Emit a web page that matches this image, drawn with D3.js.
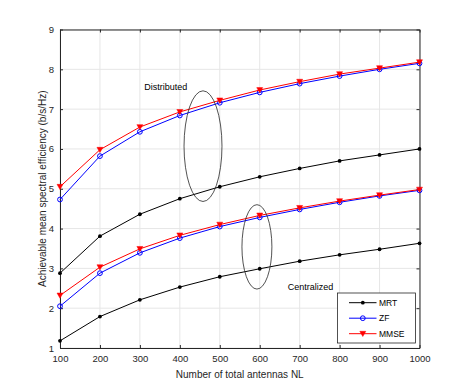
<!DOCTYPE html>
<html>
<head>
<meta charset="utf-8">
<script src="https://cdn.jsdelivr.net/npm/d3@7"></script>
<style>
  body { margin: 0; background: #fff; }
  text { font-family: "Liberation Sans", Arial, sans-serif; }
</style>
</head>
<body>
<svg id="chart"></svg>
<script>
const width = 463;
const height = 392;

// number of total antennas
const antennas = [100, 200, 300, 400, 500, 600, 700, 800, 900, 1000];
const xTicks = antennas;
const yTicks = [1, 2, 3, 4, 5, 6, 7, 8, 9];

// distributed
const distMRT  = [2.88, 3.81, 4.36, 4.75, 5.05, 5.30, 5.51, 5.70, 5.85, 6.00];
const distZF   = [4.73, 5.82, 6.43, 6.84, 7.16, 7.42, 7.64, 7.83, 8.00, 8.15];
const distMMSE = [5.05, 5.98, 6.55, 6.93, 7.22, 7.48, 7.69, 7.88, 8.03, 8.18];
// centralized
const centMRT  = [1.18, 1.79, 2.21, 2.53, 2.79, 2.99, 3.18, 3.34, 3.48, 3.63];
const centZF   = [2.05, 2.88, 3.39, 3.76, 4.05, 4.28, 4.48, 4.66, 4.82, 4.96];
const centMMSE = [2.32, 3.03, 3.49, 3.83, 4.10, 4.33, 4.52, 4.69, 4.84, 4.98];

const legendNames = ['MRT', 'ZF', 'MMSE'];

const margin = { top: 29.5, right: 43.5, bottom: 44, left: 60 };

const svg = d3.select('#chart')
    .attr('width', width)
    .attr('height', height);

const x = d3.scaleLinear()
    .domain([100, 1000])
    .range([margin.left, width - margin.right]);

const y = d3.scaleLinear()
    .domain([1, 9])
    .range([height - margin.bottom, margin.top]);

const axisColor = '#262626';
const gridColor = '#e6e6e6';

// grid
svg.append('g')
    .selectAll('line')
    .data(xTicks)
    .join('line')
    .attr('x1', d => x(d)).attr('x2', d => x(d))
    .attr('y1', y(1)).attr('y2', y(9))
    .attr('stroke', gridColor)
    .attr('stroke-width', 1);

svg.append('g')
    .selectAll('line')
    .data(yTicks)
    .join('line')
    .attr('x1', x(100)).attr('x2', x(1000))
    .attr('y1', d => y(d)).attr('y2', d => y(d))
    .attr('stroke', gridColor)
    .attr('stroke-width', 1);

// axes (ticks inward, box on)
const fontSize = '9.5px';
const styleAxis = g => {
    g.select('.domain').attr('stroke', axisColor);
    g.selectAll('.tick line').attr('stroke', axisColor);
    g.selectAll('.tick text').attr('fill', axisColor).style('font-size', fontSize)
        .style('font-family', '"Liberation Sans", Arial, sans-serif');
};

svg.append('g')
    .attr('transform', `translate(0,${y(1)})`)
    .call(d3.axisBottom(x).tickValues(xTicks).tickFormat(d3.format('d'))
        .tickSizeInner(-3).tickSizeOuter(0).tickPadding(7))
    .call(styleAxis);

svg.append('g')
    .attr('transform', `translate(0,${y(9)})`)
    .call(d3.axisTop(x).tickValues(xTicks).tickSizeInner(-3).tickSizeOuter(0).tickFormat(''))
    .call(styleAxis);

svg.append('g')
    .attr('transform', `translate(${x(100)},0)`)
    .call(d3.axisLeft(y).tickValues(yTicks).tickSizeInner(-3).tickSizeOuter(0).tickPadding(6))
    .call(styleAxis);

svg.append('g')
    .attr('transform', `translate(${x(1000)},0)`)
    .call(d3.axisRight(y).tickValues(yTicks).tickSizeInner(-3).tickSizeOuter(0).tickFormat(''))
    .call(styleAxis);

// axis labels
svg.append('text')
    .attr('x', x(550))
    .attr('y', height - 14)
    .attr('text-anchor', 'middle')
    .attr('fill', axisColor)
    .style('font-size', '10px')
    .text('Number of total antennas NL');

svg.append('text')
    .attr('transform', `translate(45.5,${y(5)}) rotate(-90)`)
    .attr('text-anchor', 'middle')
    .attr('fill', axisColor)
    .style('font-size', '10px')
    .text('Achievable mean spectral efficiency (b/s/Hz)');

// series
const series = [
    { name: 'MRT', values: distMRT, color: '#000000', marker: 'dot' },
    { name: 'ZF', values: distZF, color: '#0000ff', marker: 'circle' },
    { name: 'MMSE', values: distMMSE, color: '#ff0000', marker: 'tri' },
    { name: 'MRT', values: centMRT, color: '#000000', marker: 'dot' },
    { name: 'ZF', values: centZF, color: '#0000ff', marker: 'circle' },
    { name: 'MMSE', values: centMMSE, color: '#ff0000', marker: 'tri' }
];

const line = d3.line()
    .x((d, i) => x(antennas[i]))
    .y(d => y(d));

function drawMarker(g, type, color, cx, cy) {
    if (type === 'dot') {
        g.append('circle').attr('cx', cx).attr('cy', cy).attr('r', 1.9)
            .attr('fill', color);
    } else if (type === 'circle') {
        g.append('circle').attr('cx', cx).attr('cy', cy).attr('r', 2.4)
            .attr('fill', 'none').attr('stroke', color).attr('stroke-width', 1);
    } else {
        g.append('path')
            .attr('d', `M${cx - 3},${cy - 2.4}L${cx + 3},${cy - 2.4}L${cx},${cy + 2.8}Z`)
            .attr('fill', color).attr('stroke', color).attr('stroke-width', 0.5);
    }
}

series.forEach(s => {
    const g = svg.append('g');
    g.append('path')
        .datum(s.values)
        .attr('d', line)
        .attr('fill', 'none')
        .attr('stroke', s.color)
        .attr('stroke-width', 1);
    s.values.forEach((v, i) => drawMarker(g, s.marker, s.color, x(antennas[i]), y(v)));
});

// annotation ellipses
const ellipses = [
    { cx: 458, cy: 6.07, rx: 47.5, ry: 1.39 },
    { cx: 593, cy: 3.54, rx: 37.5, ry: 1.06 }
];

svg.append('g')
    .selectAll('ellipse')
    .data(ellipses)
    .join('ellipse')
    .attr('cx', d => x(d.cx))
    .attr('cy', d => y(d.cy))
    .attr('rx', d => x(d.cx + d.rx) - x(d.cx))
    .attr('ry', d => y(d.cy - d.ry) - y(d.cy))
    .attr('fill', 'none')
    .attr('stroke', '#262626')
    .attr('stroke-width', 0.8);

svg.append('text')
    .attr('x', x(365))
    .attr('y', y(7.47))
    .attr('text-anchor', 'middle')
    .attr('fill', '#000')
    .style('font-size', '9px')
    .text('Distributed');

svg.append('text')
    .attr('x', x(727))
    .attr('y', y(2.46))
    .attr('text-anchor', 'middle')
    .attr('fill', '#000')
    .style('font-size', '9px')
    .text('Centralized');

// legend
const legend = svg.append('g').attr('transform', 'translate(337.5,293)');
legend.append('rect')
    .attr('width', 78)
    .attr('height', 50)
    .attr('fill', '#fff')
    .attr('stroke', axisColor)
    .attr('stroke-width', 0.8);

series.slice(0, 3).forEach((s, i) => {
    const ly = 9.7 + i * 15.5;
    legend.append('line')
        .attr('x1', 11.5).attr('x2', 39)
        .attr('y1', ly).attr('y2', ly)
        .attr('stroke', s.color).attr('stroke-width', 1);
    drawMarker(legend, s.marker, s.color, 25.3, ly);
    legend.append('text')
        .attr('x', 41.5)
        .attr('y', ly + 3.2)
        .attr('fill', '#000')
        .style('font-size', '8.5px')
        .text(legendNames[i]);
});
</script>
</body>
</html>
